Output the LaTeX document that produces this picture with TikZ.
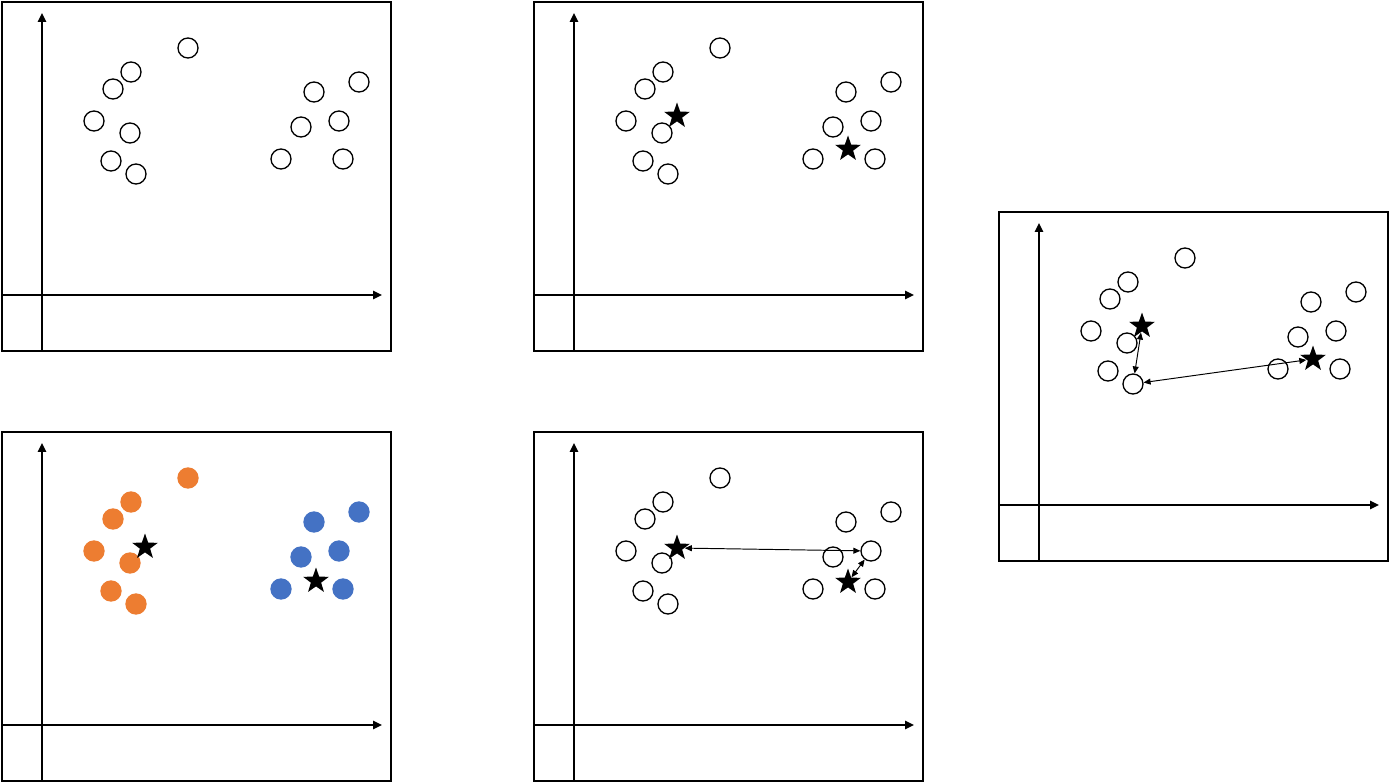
\documentclass[tikz,border=0pt]{standalone}
\usepackage{tikz}
\usepackage{xcolor}
\usetikzlibrary{shapes.geometric, arrows.meta}

\definecolor{dotorange}{HTML}{ED7D31}
\definecolor{dotblue}{HTML}{4472C4}

% positions inside one panel, in pixels from its top left corner
\newcommand{\leftpts}{1/186/46, 2/129/70, 3/111/87, 4/92/119, 5/128/131, 6/109/159, 7/134/172}
\newcommand{\rightpts}{1/357/80, 2/312/90, 3/337/119, 4/299/125, 5/279/157, 6/341/157}

\begin{document}
\begin{tikzpicture}[x=0.02cm, y=-0.02cm,
    dot/.style={circle, draw, line width=0.75pt, minimum size=0.4cm, inner sep=0pt},
    centre/.style={star, star points=5, star point ratio=2.5, fill=black,
      minimum size=0.54cm, inner sep=0pt},
    frame/.style={line width=1.1pt},
    axis/.style={-{Triangle[length=5pt, width=4.6pt]}, line width=1.2pt},
    dist/.style={{Triangle[length=4pt, width=3.4pt]}-{Triangle[length=4pt, width=3.4pt]},
      line width=0.55pt}]
  \useasboundingbox (0,0) rectangle (1389,783);
  % frames and axes
  \foreach \px/\py in {2/2, 534/2, 999/212, 2/432, 534/432} {
    \draw[frame] (\px,\py) rectangle ++(389,349);
    \draw[axis] (\px,\py+293) -- ++(380,0);
    \draw[axis] (\px+40,\py+349) -- ++(0,-338);
  }
  % 1: data only
  \begin{scope}[shift={(2,2)}]
    \foreach \n/\xx/\yy in \leftpts \node[dot] (A-l\n) at (\xx,\yy) {};
    \foreach \n/\xx/\yy in \rightpts \node[dot] (A-r\n) at (\xx,\yy) {};
  \end{scope}
  % 2: random centres
  \begin{scope}[shift={(534,2)}]
    \foreach \n/\xx/\yy in \leftpts \node[dot] (B-l\n) at (\xx,\yy) {};
    \foreach \n/\xx/\yy in \rightpts \node[dot] (B-r\n) at (\xx,\yy) {};
    \node[centre] (B-s1) at (143,114) {};
    \node[centre] (B-s2) at (314,147) {};
  \end{scope}
  % 3: distances of one point
  \begin{scope}[shift={(999,212)}]
    \foreach \n/\xx/\yy in \leftpts \node[dot] (C-l\n) at (\xx,\yy) {};
    \foreach \n/\xx/\yy in \rightpts \node[dot] (C-r\n) at (\xx,\yy) {};
    \node[centre] (C-s1) at (143,114) {};
    \node[centre] (C-s2) at (314,147) {};
    \draw[dist] (C-s1) -- (C-l7);
    \draw[dist] (C-l7) -- (C-s2);
  \end{scope}
  % 4: clusters
  \begin{scope}[shift={(2,432)}]
    \foreach \n/\xx/\yy in \leftpts
      \node[dot, draw=dotorange, fill=dotorange] (D-l\n) at (\xx,\yy) {};
    \foreach \n/\xx/\yy in \rightpts
      \node[dot, draw=dotblue, fill=dotblue] (D-r\n) at (\xx,\yy) {};
    \node[centre] (D-s1) at (143,115) {};
    \node[centre] (D-s2) at (314,149) {};
  \end{scope}
  % 5: distances of another point
  \begin{scope}[shift={(534,432)}]
    \foreach \n/\xx/\yy in \leftpts \node[dot] (E-l\n) at (\xx,\yy) {};
    \foreach \n/\xx/\yy in \rightpts \node[dot] (E-r\n) at (\xx,\yy) {};
    \node[centre] (E-s1) at (143,116) {};
    \node[centre] (E-s2) at (314,150) {};
    \draw[dist] (E-s1) -- (E-r3);
    \draw[dist] (E-r3) -- (E-s2);
  \end{scope}
\end{tikzpicture}
\end{document}
